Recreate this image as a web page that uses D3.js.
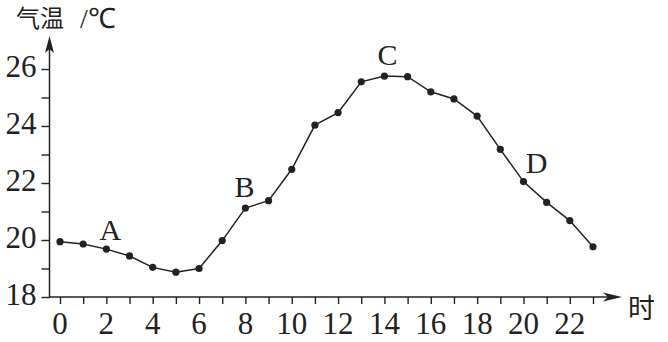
<!DOCTYPE html>
<html>
<head>
<meta charset="utf-8">
<script src="https://cdn.jsdelivr.net/npm/d3@7"></script>
<style>
  html, body { margin: 0; padding: 0; background: #fff; }
  svg { display: block; }
</style>
</head>
<body>
<div id="chart"></div>
<script>
// hourly air temperature
var hours = d3.range(0, 24);
var temps = [19.94, 19.86, 19.68, 19.44, 19.04, 18.87, 19.00, 19.98, 21.12, 21.38, 22.48, 24.03,
             24.47, 25.55, 25.75, 25.73, 25.20, 24.95, 24.35, 23.18, 22.05, 21.32, 20.68, 19.76];
var yTicks = [18, 19, 20, 21, 22, 23, 24, 25, 26];
var xLabels = [0, 2, 4, 6, 8, 10, 12, 14, 16, 18, 20, 22];
var yLabels = [18, 20, 22, 24, 26];
var pointNames = ["A", "B", "C", "D"];
var pointHours = [2, 8, 14, 20];

var width = 668, height = 342;
var margin = {top: 69, right: 75, bottom: 45, left: 60};
var ink = "#222";
var serif = "'Liberation Serif', 'Times New Roman', serif";

var svg = d3.select("#chart").append("svg")
    .attr("width", width)
    .attr("height", height);

var x = d3.scaleLinear()
    .domain([0, 23])
    .range([margin.left, width - margin.right]);

var y = d3.scaleLinear()
    .domain([18, 26])
    .range([height - margin.bottom, margin.top]);

var axisX = margin.left - 10.5;   // y axis sits left of hour 0
var axisY = y(18);

// tick marks from d3 axes, labels drawn separately below
var gx = svg.append("g")
    .attr("transform", "translate(0," + axisY + ")")
    .call(d3.axisBottom(x).tickValues(hours).tickSize(7).tickFormat(""));
gx.select(".domain").remove();

var gy = svg.append("g")
    .attr("transform", "translate(" + axisX + ",0)")
    .call(d3.axisLeft(y).tickValues(yTicks).tickSize(8).tickFormat(""));
gy.select(".domain").remove();

svg.selectAll(".tick line").attr("stroke", ink).attr("stroke-width", 1.4);

svg.selectAll(".xlab")
    .data(xLabels)
    .enter()
    .append("text")
    .attr("class", "xlab")
    .attr("x", function(d) { return x(d); })
    .attr("y", axisY + 37)
    .attr("text-anchor", "middle")
    .attr("fill", ink)
    .style("font-family", serif)
    .style("font-size", "31px")
    .text(function(d) { return d; });

svg.selectAll(".ylab")
    .data(yLabels)
    .enter()
    .append("text")
    .attr("class", "ylab")
    .attr("x", axisX - 13)
    .attr("y", function(d) { return y(d) + 8; })
    .attr("text-anchor", "end")
    .attr("fill", ink)
    .style("font-family", serif)
    .style("font-size", "31px")
    .text(function(d) { return d; });

// axis lines with arrows
var xEnd = 622, yEnd = 36;
svg.append("line")
    .attr("x1", axisX - 0.5).attr("y1", axisY)
    .attr("x2", xEnd - 6).attr("y2", axisY)
    .attr("stroke", ink).attr("stroke-width", 1.5);
svg.append("line")
    .attr("x1", axisX).attr("y1", axisY + 0.5)
    .attr("x2", axisX).attr("y2", yEnd + 6)
    .attr("stroke", ink).attr("stroke-width", 1.5);

svg.append("path")
    .attr("d", "M" + xEnd + "," + axisY +
               "L" + (xEnd - 19) + "," + (axisY - 4.5) +
               "L" + (xEnd - 14) + "," + axisY +
               "L" + (xEnd - 19) + "," + (axisY + 4.5) + "Z")
    .attr("fill", ink);
svg.append("path")
    .attr("d", "M" + axisX + "," + yEnd +
               "L" + (axisX - 4.5) + "," + (yEnd + 17) +
               "L" + axisX + "," + (yEnd + 13) +
               "L" + (axisX + 4.5) + "," + (yEnd + 17) + "Z")
    .attr("fill", ink);

// temperature curve
var line = d3.line()
    .x(function(d, i) { return x(hours[i]); })
    .y(function(d) { return y(d); });

svg.append("path")
    .datum(temps)
    .attr("d", line)
    .attr("fill", "none")
    .attr("stroke", ink)
    .attr("stroke-width", 1.5);

svg.selectAll(".dot")
    .data(temps)
    .enter()
    .append("circle")
    .attr("class", "dot")
    .attr("cx", function(d, i) { return x(hours[i]); })
    .attr("cy", function(d) { return y(d); })
    .attr("r", 3.6)
    .attr("fill", ink);

// point letters
var labelOffset = [[4, -9], [-1, -11], [3, -11], [13, -9]];
svg.selectAll(".plabel")
    .data(pointNames)
    .enter()
    .append("text")
    .attr("class", "plabel")
    .attr("x", function(d, i) { return x(pointHours[i]) + labelOffset[i][0]; })
    .attr("y", function(d, i) { return y(temps[pointHours[i]]) + labelOffset[i][1]; })
    .attr("text-anchor", "middle")
    .attr("fill", ink)
    .style("font-family", serif)
    .style("font-size", "30px")
    .text(function(d) { return d; });

// axis titles
svg.append("text")
    .attr("x", 16).attr("y", 27)
    .attr("fill", ink)
    .style("font-family", "'Noto Sans CJK SC', sans-serif")
    .style("font-size", "24px")
    .text("气温");
svg.append("text")
    .attr("x", 80).attr("y", 28)
    .attr("fill", ink)
    .style("font-family", serif)
    .style("font-size", "28px")
    .text("/℃");
svg.append("text")
    .attr("x", 628).attr("y", 318)
    .attr("fill", ink)
    .style("font-family", "'Noto Sans CJK SC', sans-serif")
    .style("font-size", "27px")
    .text("时");
</script>
</body>
</html>
